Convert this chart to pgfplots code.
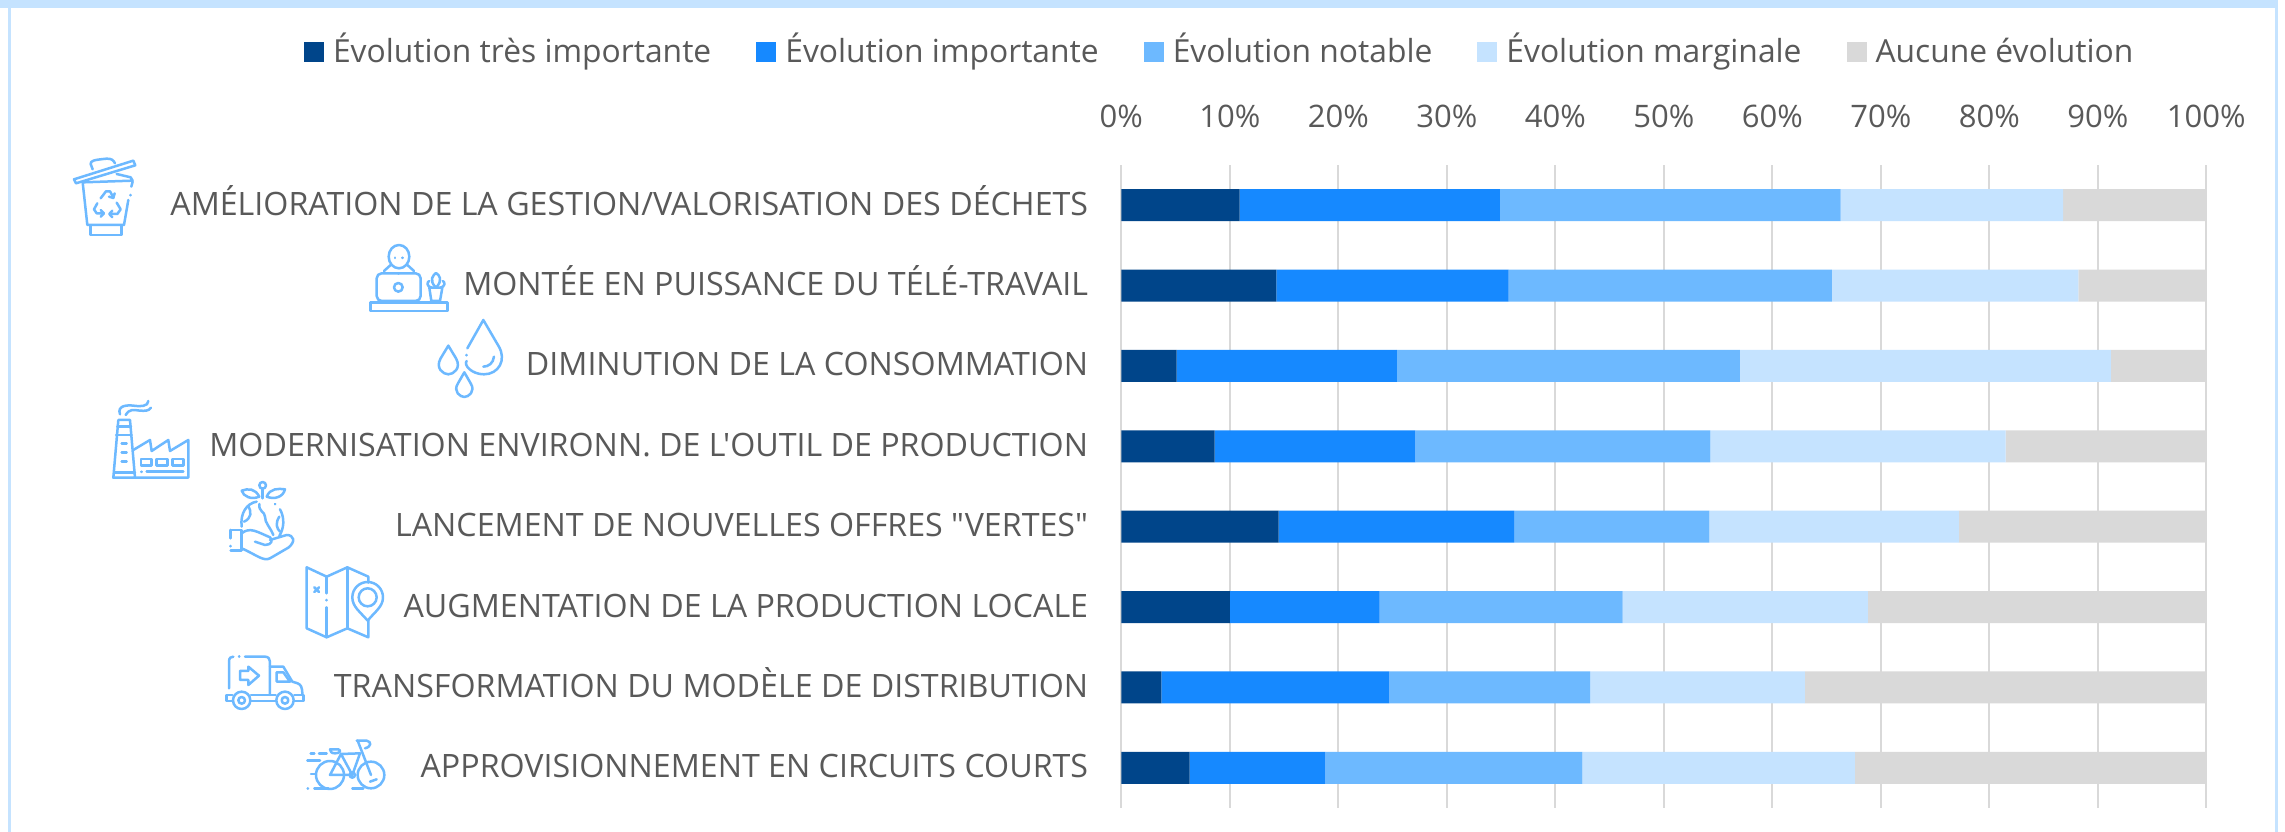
\documentclass[border=0pt]{standalone}
\usepackage{fontspec}
\usepackage{pgfplots}
\pgfplotsset{compat=1.18}
\newfontfamily\of{Open Sans}
\definecolor{c1}{HTML}{00458A}
\definecolor{c2}{HTML}{1689FF}
\definecolor{c3}{HTML}{6DB9FF}
\definecolor{c4}{HTML}{C5E3FF}
\definecolor{c5}{HTML}{D9D9D9}
\definecolor{txt}{HTML}{595959}
\newcommand{\ff}{\fontsize{31}{36}\selectfont\of}
\newcommand{\fl}{\fontsize{32.2}{36}\selectfont\of}
\newcommand{\fg}{\fontsize{31.8}{36}\selectfont\of}
\tikzset{ic/.style={draw=c3,line width=2.5pt,line cap=round,line join=round,fill=none},
 icon at/.style={shift={(#1)},x=.3333pt,y=-.3333pt}}
\begin{document}
\begin{tikzpicture}[x=1pt,y=1pt]
\useasboundingbox (0,0) rectangle (2285,832);
\fill[white] (0,0) rectangle (2285,832);
\fill[c4] (0,824) rectangle (2278,832);
\fill[c4] (8,0) rectangle (11,832);
\fill[c4] (2275,0) rectangle (2278,832);
\begin{axis}[
  at={(1121.3pt,24pt)},anchor=south west,
  width=1085pt,height=643pt,scale only axis,
  xbar stacked,bar width=32pt,
  xmin=0,xmax=100,ymin=-0.5,ymax=7.5,y dir=reverse,
  xtick={0,10,...,100},ytick={0,...,7},
  yticklabels={AMÉLIORATION DE LA GESTION/VALORISATION DES DÉCHETS,MONTÉE EN PUISSANCE DU TÉLÉ-TRAVAIL,DIMINUTION DE LA CONSOMMATION,MODERNISATION ENVIRONN. DE L'OUTIL DE PRODUCTION,LANCEMENT DE NOUVELLES OFFRES "VERTES",AUGMENTATION DE LA PRODUCTION LOCALE,TRANSFORMATION DU MODÈLE DE DISTRIBUTION,APPROVISIONNEMENT EN CIRCUITS COURTS},
  xticklabel pos=upper,
  xticklabel={\pgfmathprintnumber{\tick}\%},
  /pgf/number format/assume math mode=true,
  major tick length=0pt,
  axis line style={draw=none},
  xmajorgrids,
  major grid style={draw=c5,line width=2pt},
  clip=false,
  xticklabel style={font=\ff,text=txt,anchor=base,yshift=38pt,inner sep=0pt},
  yticklabel style={font=\fl,text=txt,anchor=base east,xshift=-33pt,yshift=-10pt,inner sep=0pt},
  legend columns=-1,
  legend cell align=left,
  legend style={draw=none,fill=none,inner sep=0pt,font=\fg,text=txt,
    at={(rel axis cs:-0.7534,1.1733)},anchor=west,
    /tikz/every odd column/.append style={column sep=9pt},
    /tikz/every even column/.append style={column sep=45pt},
    nodes={inner sep=0pt,text height=25pt,text depth=8pt}},
  legend image code/.code={\fill[#1] (0pt,-8.5pt) rectangle (20pt,11.5pt);},
]
\addplot[fill=c1,draw=none] coordinates {(10.9,0)(14.3,1)(5.1,2)(8.6,3)(14.5,4)(10.0,5)(3.7,6)(6.3,7)};
\addplot[fill=c2,draw=none] coordinates {(24.0,0)(21.4,1)(20.3,2)(18.5,3)(21.7,4)(13.8,5)(21.0,6)(12.5,7)};
\addplot[fill=c3,draw=none] coordinates {(31.4,0)(29.8,1)(31.6,2)(27.2,3)(18.0,4)(22.4,5)(18.5,6)(23.7,7)};
\addplot[fill=c4,draw=none] coordinates {(20.5,0)(22.7,1)(34.2,2)(27.2,3)(23.0,4)(22.6,5)(19.8,6)(25.1,7)};
\addplot[fill=c5,draw=none] coordinates {(13.2,0)(11.8,1)(8.8,2)(18.5,3)(22.8,4)(31.2,5)(37.0,6)(32.4,7)};
\legend{Évolution très importante,Évolution importante,Évolution notable,Évolution marginale,Aucune évolution}
\end{axis}
\begin{scope}[shift={(0pt,832pt)},x=1pt,y=-1pt]
% trash
\begin{scope}[icon at={60,150}]
\draw[ic] (42,88)--(220,32)--(226,46)--(48,100)--cycle;
\draw[ic] (98,58)--(92,42) .. controls (92,32) and (100,30) .. (140,26) .. controls (155,26) and (160,30) .. (165,40);
\draw[ic] (170,72)--(212,82)--(218,92)--(70,97);
\draw[ic] (68,97)--(82,225)--(192,225)--(205,150);
\draw[ic] (218,95)--(214,110);
\draw[ic] (212,135)--(212,136);
\draw[ic] (92,228)--(92,255)--(185,255)--(185,228);
\draw[ic] (122,145)--(138,124)--(150,124)--(160,142);
\draw[ic] (164,130)--(160,144)--(147,140);
\draw[ic] (112,160)--(102,178)--(110,190)--(130,190);
\draw[ic] (122,180)--(132,190)--(122,200);
\draw[ic] (150,192)--(172,192)--(182,178)--(170,158);
\draw[ic] (157,182)--(148,192)--(157,202);
\end{scope}
% worker
\begin{scope}[icon at={360,235}]
\draw[ic] (117,65) ellipse (31 and 35);
\draw[ic] (105,68)--(105,69) (128,68)--(128,69);
\draw[ic] (72,108)--(92,90) (142,90)--(162,108);
\draw[ic,rounded corners=5pt] (50,115) rectangle (182,198);
\draw[ic] (115,115)--(115,116);
\draw[ic] (115,157) circle (13);
\draw[ic] (32,203) rectangle (262,228);
\draw[ic] (208,158)--(214,198)--(240,198)--(247,158)--cycle;
\draw[ic] (228,158) .. controls (205,135) and (220,120) .. (228,114) .. controls (238,120) and (250,135) .. (228,158);
\draw[ic] (214,158) .. controls (200,155) and (200,140) .. (208,138);
\draw[ic] (242,158) .. controls (256,155) and (256,140) .. (248,138);
\end{scope}
% drops
\begin{scope}[icon at={430,315}]
\draw[ic] (112,100)--(160,15)--(205,92) .. controls (232,135) and (205,178) .. (162,178) .. controls (125,178) and (100,150) .. (110,138);
\draw[ic] (110,120)--(110,121);
\draw[ic] (192,125) .. controls (190,145) and (175,155) .. (160,155);
\draw[ic] (55,92)--(78,130) .. controls (95,160) and (70,178) .. (55,178) .. controls (40,178) and (15,160) .. (32,130)--cycle;
\draw[ic] (103,172)--(122,205) .. controls (138,230) and (115,246) .. (103,246) .. controls (91,246) and (68,230) .. (84,205)--cycle;
\end{scope}
% factory
\begin{scope}[icon at={105,395}]
\draw[ic] (45,58) .. controls (35,30) and (70,30) .. (85,32) .. controls (105,35) and (130,35) .. (130,18);
\draw[ic] (62,60) .. controls (75,40) and (85,45) .. (105,47) .. controls (120,48) and (132,48) .. (138,38);
\draw[ic] (40,75)--(75,75)--(90,248)--(25,248)--cycle;
\draw[ic] (37,95)--(78,95) (33,120)--(80,120) (28,232)--(90,232);
\draw[ic] (50,145)--(65,145) (50,172)--(65,172) (50,200)--(65,200);
\draw[ic] (85,165)--(135,135)--(140,168)--(190,135)--(195,168)--(250,135)--(250,248)--(90,248);
\draw[ic] (108,192) rectangle (140,212) (155,192) rectangle (188,212) (203,192) rectangle (235,212);
\draw[ic] (125,230)--(235,230) (110,230)--(110,231);
\end{scope}
% earth in hand
\begin{scope}[icon at={220,480}]
\draw[ic] (128,55)--(128,26);
\draw[ic] (128,16) circle (10);
\draw[ic] (118,50) .. controls (105,25) and (85,25) .. (65,32) .. controls (70,50) and (95,60) .. (118,50);
\draw[ic] (140,50) .. controls (150,25) and (175,25) .. (195,28) .. controls (190,50) and (165,60) .. (140,50);
\draw[ic] (110,65) .. controls (80,70) and (60,100) .. (65,140);
\draw[ic] (165,72)--(166,73);
\draw[ic] (180,88) .. controls (195,115) and (192,145) .. (178,168);
\draw[ic] (85,78) .. controls (95,95) and (95,115) .. (72,125);
\draw[ic] (118,72) .. controls (115,95) and (135,95) .. (135,110) .. controls (135,130) and (150,140) .. (160,165);
\draw[ic] (178,110) .. controls (165,130) and (170,145) .. (180,155);
\draw[ic] (32,150)--(65,150)--(65,212)--(32,212);
\draw[ic] (32,150)--(32,175);
\draw[ic] (32,198)--(32,199);
\draw[ic] (65,160) .. controls (90,140) and (110,155) .. (150,172) .. controls (160,180) and (155,195) .. (135,195)--(105,185);
\draw[ic] (150,180)--(200,165) .. controls (222,165) and (228,185) .. (205,203)--(150,235) .. controls (130,245) and (110,225) .. (65,205);
\end{scope}
% map
\begin{scope}[icon at={295,560}]
\draw[ic] (220,68)--(220,50)--(157,22)--(95,50)--(35,22)--(35,205)--(95,232)--(157,205)--(220,232)--(220,180);
\draw[ic] (95,50)--(95,100) (95,120)--(95,121) (95,142)--(95,232) (157,22)--(157,205);
\draw[ic] (58,82)--(72,96) (72,82)--(58,96);
\draw[ic] (218,182) .. controls (195,155) and (172,140) .. (172,112) arc (180:360:46) .. controls (264,140) and (240,155) .. cycle;
\draw[ic] (218,112) circle (27);
\end{scope}
% truck
\begin{scope}[icon at={215,645}]
\draw[ic] (42,130)--(42,50) .. controls (42,38) and (48,35) .. (55,35);
\draw[ic] (72,35)--(73,35);
\draw[ic] (90,35)--(150,35) .. controls (160,35) and (165,42) .. (165,50)--(165,150);
\draw[ic] (75,78)--(100,78)--(100,65)--(132,92)--(100,120)--(100,105)--(75,105)--cycle;
\draw[ic] (165,65)--(205,65)--(232,110)--(248,115) .. controls (258,120) and (262,125) .. (262,150);
\draw[ic] (185,82)--(205,82)--(225,110)--(185,110)--cycle;
\draw[ic] (52,150)--(35,150)--(35,168)--(52,168);
\draw[ic] (108,150)--(182,150) (108,168)--(182,168);
\draw[ic] (238,150)--(265,150)--(265,168)--(238,168);
\draw[ic] (80,166) circle (26) (80,166) circle (10);
\draw[ic] (210,166) circle (26) (210,166) circle (10);
\end{scope}
% bike
\begin{scope}[icon at={295,730}]
\draw[ic] (105,135) circle (42);
\draw[ic] (228,135) circle (40);
\draw[ic] (172,135)--(105,135)--(138,72)--(172,135)--(195,70)--(138,72);
\draw[ic] (188,32)--(228,135);
\draw[ic] (185,32)--(215,32) .. controls (230,35) and (230,50) .. (210,55);
\draw[ic] (105,58)--(130,58) .. controls (140,62) and (135,70) .. (120,70) .. controls (110,70) and (105,65) .. (105,58);
\draw[ic] (172,135) circle (8);
\draw[ic] (47,70)--(58,70) (72,70)--(95,70) (37,92)--(75,92) (48,132)--(62,132) (38,175)--(39,175) (58,175)--(100,175) (172,175)--(205,175);
\draw[ic] (225,155)--(245,148);
\end{scope}
\end{scope}
\end{tikzpicture}
\end{document}
